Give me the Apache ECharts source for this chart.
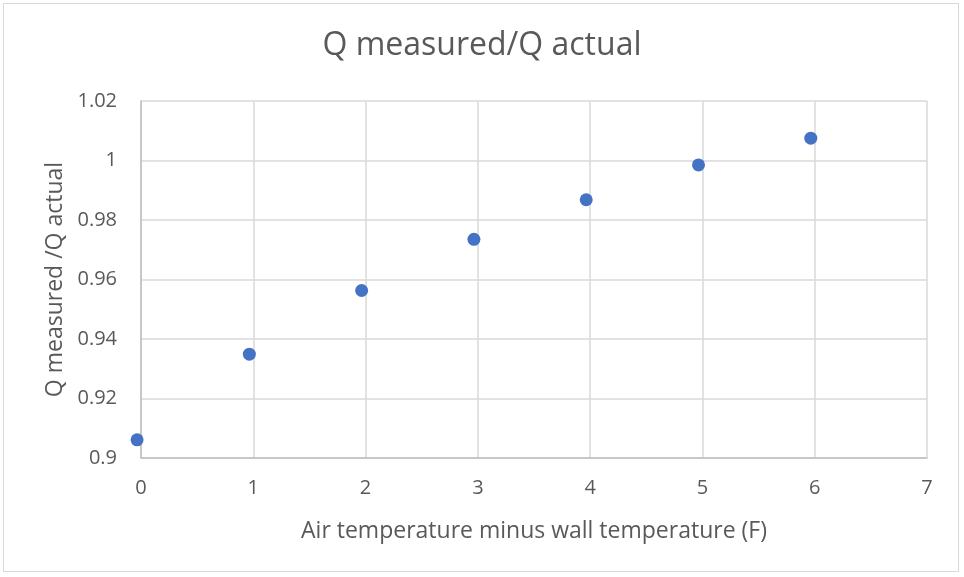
<!DOCTYPE html>
<html>
<head>
<meta charset="utf-8">
<script src="https://cdn.jsdelivr.net/npm/echarts@6/dist/echarts.min.js"></script>
<style>
  html, body { margin: 0; padding: 0; background: #fff; }
  #frame { position: absolute; left: 3px; top: 3px; width: 956px; height: 569px; border: 1px solid #d9d9d9; box-sizing: border-box; }
  #chart { position: absolute; left: 0; top: 0; width: 964px; height: 577px; }
</style>
</head>
<body>
<div id="frame"></div>
<div id="chart"></div>
<script>
// Temperature difference (air minus wall, F)
const tempDiff = [-0.035, 0.965, 1.965, 2.965, 3.965, 4.965, 5.965];
// Ratio of measured to actual heat flux
const qRatio = [0.9061, 0.9349, 0.9563, 0.9735, 0.9868, 0.9985, 1.0075];

const titleText = 'Q measured/Q actual';
const xName = 'Air temperature minus wall temperature (F)';
const yName = 'Q measured /Q actual';

const points = tempDiff.map((x, i) => [x, qRatio[i]]);
const font = 'Open Sans, Noto Sans, sans-serif';

const chart = echarts.init(document.getElementById('chart'), null, { renderer: 'canvas' });
chart.setOption({
  animation: false,
  title: {
    text: titleText,
    left: 'center',
    top: 25,
    textStyle: { fontFamily: font, fontSize: 32, fontWeight: 'normal', color: '#595959' }
  },
  grid: { left: 141, right: 37, top: 101, bottom: 119 },
  xAxis: {
    type: 'value',
    min: 0, max: 7, interval: 1,
    name: xName,
    nameLocation: 'middle',
    nameGap: 62,
    nameTextStyle: { fontFamily: font, fontSize: 23, color: '#595959' },
    axisLine: { show: true, onZero: false, lineStyle: { color: '#bfbfbf', width: 1.5 } },
    axisTick: { show: false },
    axisLabel: { fontFamily: font, fontSize: 20, color: '#595959', margin: 20 },
    splitLine: { show: true, lineStyle: { color: '#d9d9d9', width: 1.5 } }
  },
  yAxis: {
    type: 'value',
    min: 0.9, max: 1.02, interval: 0.02,
    name: yName,
    nameLocation: 'middle',
    nameGap: 74,
    nameTextStyle: { fontFamily: font, fontSize: 23, color: '#595959' },
    axisLine: { show: true, lineStyle: { color: '#bfbfbf', width: 1.5 } },
    axisTick: { show: false },
    axisLabel: {
      fontFamily: font, fontSize: 20, color: '#595959', margin: 24,
      formatter: v => String(parseFloat(v.toFixed(2)))
    },
    splitLine: { show: true, lineStyle: { color: '#d9d9d9', width: 1.5 } }
  },
  series: [{
    type: 'scatter',
    data: points,
    symbol: 'circle',
    symbolSize: 13,
    itemStyle: { color: '#4472C4', opacity: 1 },
    clip: false
  }]
});
</script>
</body>
</html>
